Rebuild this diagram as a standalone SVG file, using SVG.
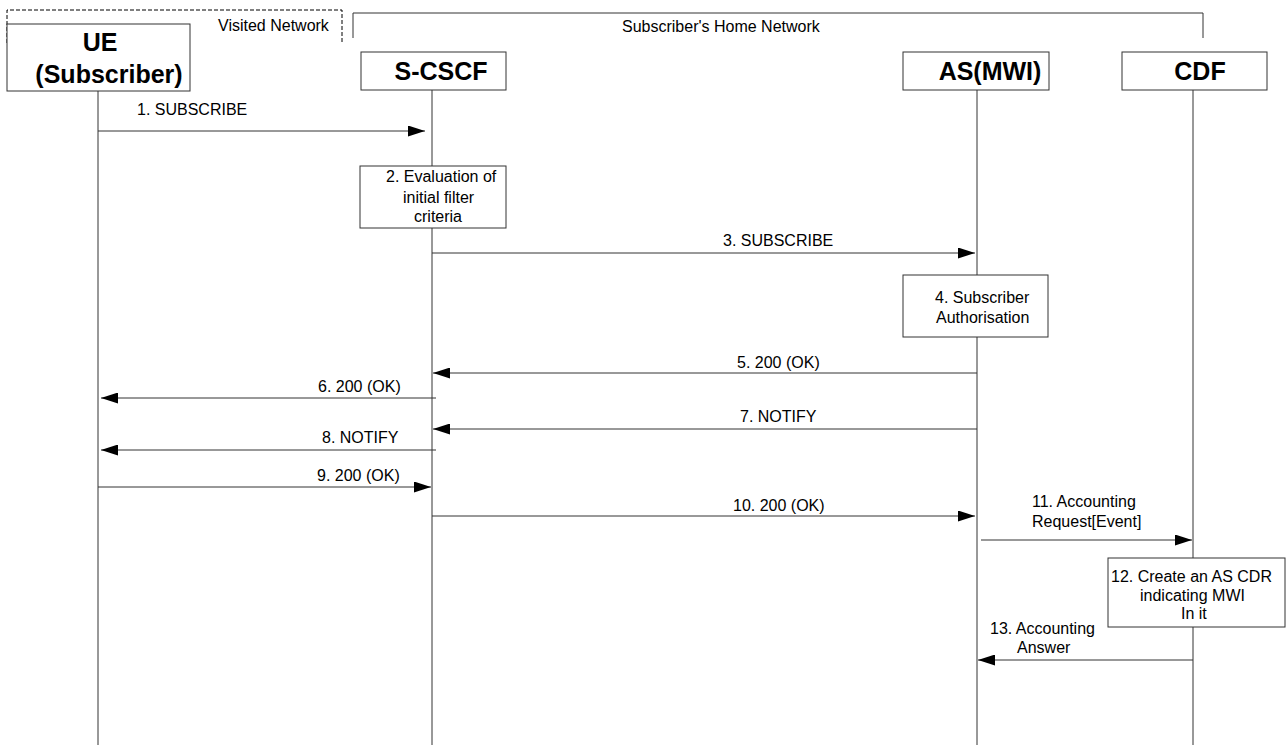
<svg xmlns="http://www.w3.org/2000/svg" width="1286" height="745" viewBox="0 0 1286 745">
<style>
text{font-family:"Liberation Sans",Arial,sans-serif;font-size:16px;fill:#000}
.h{font-size:25px;font-weight:bold;text-anchor:middle}
.box{fill:#fff;stroke:#333;stroke-width:1}
.life{stroke:#333;stroke-width:1}
.msg{stroke:#333;stroke-width:1;fill:none;marker-end:url(#ah)}
.frame{fill:none;stroke:#333;stroke-width:1}
</style>
<defs>
<marker id="ah" markerUnits="userSpaceOnUse" markerWidth="17" markerHeight="11" refX="17" refY="5.5" orient="auto">
<path d="M0,0 L17,5.5 L0,11 Z" fill="#000"/>
</marker>
</defs>
<rect width="1286" height="745" fill="#fff"/>
<g id="visited-network">
<path d="M7,43 V10 H342 V43" fill="none" stroke="#000" stroke-width="1" stroke-dasharray="4,2"/>
<text x="218" y="31">Visited Network</text>
</g>
<g id="home-network">
<path class="frame" d="M353,38 V13 H1203 V38"/>
<text x="622" y="32">Subscriber's Home Network</text>
</g>
<g id="lifelines">
<line class="life" x1="98" y1="91" x2="98" y2="745"/>
<line class="life" x1="432" y1="90" x2="432" y2="745"/>
<line class="life" x1="977" y1="90" x2="977" y2="745"/>
<line class="life" x1="1193" y1="90" x2="1193" y2="745"/>
</g>
<g id="ue">
<rect class="box" x="7" y="24" width="183" height="67"/>
<text class="h" x="100" y="51">UE</text>
<text class="h" x="109" y="83">(Subscriber)</text>
</g>
<g id="scscf">
<rect class="box" x="361" y="52" width="145" height="38"/>
<text class="h" x="441" y="80">S-CSCF</text>
</g>
<g id="as">
<rect class="box" x="903" y="52" width="146" height="38"/>
<text class="h" x="990" y="80">AS(MWI)</text>
</g>
<g id="cdf">
<rect class="box" x="1122" y="52" width="145" height="38"/>
<text class="h" x="1200" y="80">CDF</text>
</g>
<g id="step2">
<rect class="box" x="360" y="166" width="146" height="62"/>
<text x="386" y="182">2. Evaluation of</text>
<text x="403" y="203">initial filter</text>
<text x="414" y="222">criteria</text>
</g>
<g id="step4">
<rect class="box" x="903" y="275" width="145" height="62"/>
<text x="935" y="303">4. Subscriber</text>
<text x="936" y="323">Authorisation</text>
</g>
<g id="step12">
<rect class="box" x="1108" y="558" width="177" height="69"/>
<text x="1111" y="582">12. Create an AS CDR</text>
<text x="1140" y="601">indicating MWI</text>
<text x="1181" y="619">In it</text>
</g>
<g id="connectors">
<line class="msg" x1="98" y1="131" x2="425" y2="131"/>
<text x="137" y="115">1. SUBSCRIBE</text>
<line class="msg" x1="432" y1="253" x2="975" y2="253"/>
<text x="723" y="246">3. SUBSCRIBE</text>
<line class="msg" x1="977" y1="373" x2="433" y2="373"/>
<text x="737" y="368">5. 200 (OK)</text>
<line class="msg" x1="436" y1="398" x2="101" y2="398"/>
<text x="318" y="392">6. 200 (OK)</text>
<line class="msg" x1="977" y1="429" x2="433" y2="429"/>
<text x="740" y="422">7. NOTIFY</text>
<line class="msg" x1="436" y1="450" x2="101" y2="450"/>
<text x="322" y="443">8. NOTIFY</text>
<line class="msg" x1="98" y1="487" x2="431" y2="487"/>
<text x="317" y="481">9. 200 (OK)</text>
<line class="msg" x1="432" y1="516" x2="975" y2="516"/>
<text x="733" y="511">10. 200 (OK)</text>
<line class="msg" x1="981" y1="540" x2="1192" y2="540"/>
<text x="1032" y="507">11. Accounting</text>
<text x="1032" y="527">Request[Event]</text>
<line class="msg" x1="1193" y1="660" x2="978" y2="660"/>
<text x="990" y="634">13. Accounting</text>
<text x="1017" y="653">Answer</text>
</g>
</svg>
